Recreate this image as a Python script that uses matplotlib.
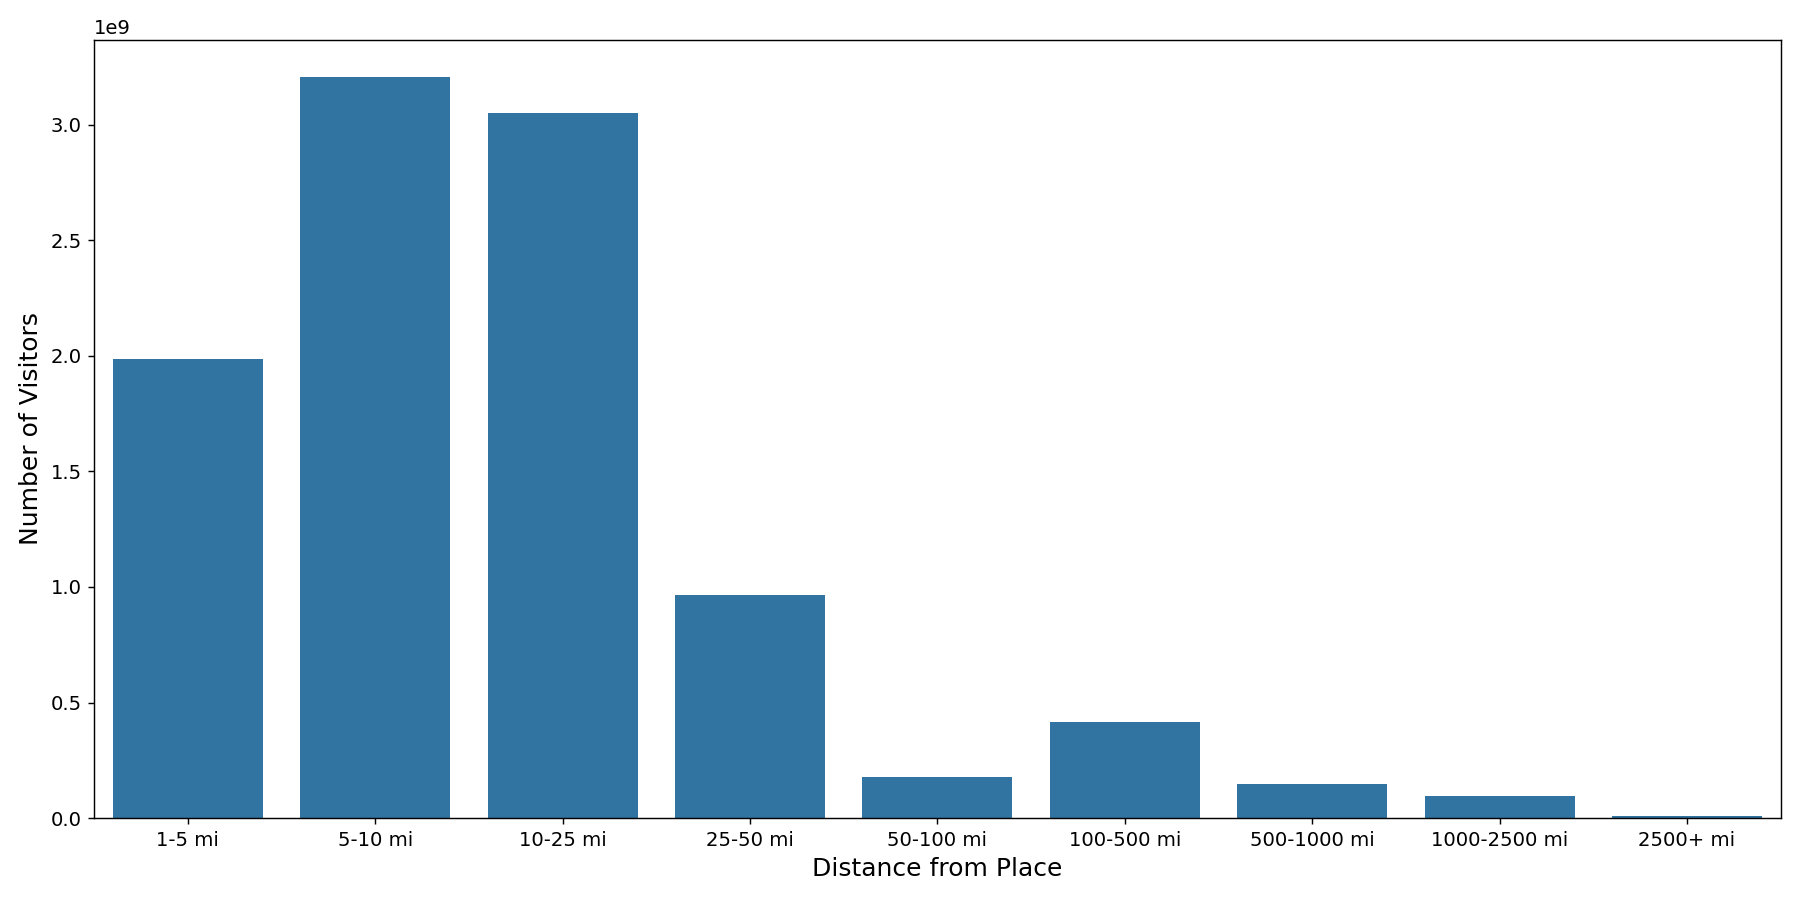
import matplotlib
matplotlib.use("Agg")
import matplotlib.pyplot as plt

categories = ["1-5 mi", "5-10 mi", "10-25 mi", "25-50 mi", "50-100 mi",
              "100-500 mi", "500-1000 mi", "1000-2500 mi", "2500+ mi"]
visitors = [1.988e9, 3.208e9, 3.050e9, 0.966e9, 0.178e9,
            0.417e9, 0.147e9, 0.097e9, 0.008e9]

fig, ax = plt.subplots(figsize=(14, 7), dpi=1800 / 14)
ax.bar(range(len(categories)), visitors, width=0.8, color="#3274a1")
ax.set_xticks(range(len(categories)))
ax.set_xticklabels(categories, fontsize=11)
ax.tick_params(axis="y", labelsize=11)
ax.set_xlim(-0.5, len(categories) - 0.5)
ax.set_xlabel("Distance from Place", fontsize=14)
ax.set_ylabel("Number of Visitors", fontsize=14)
ax.yaxis.get_offset_text().set_fontsize(11)
fig.tight_layout()
fig.savefig("out.png")
